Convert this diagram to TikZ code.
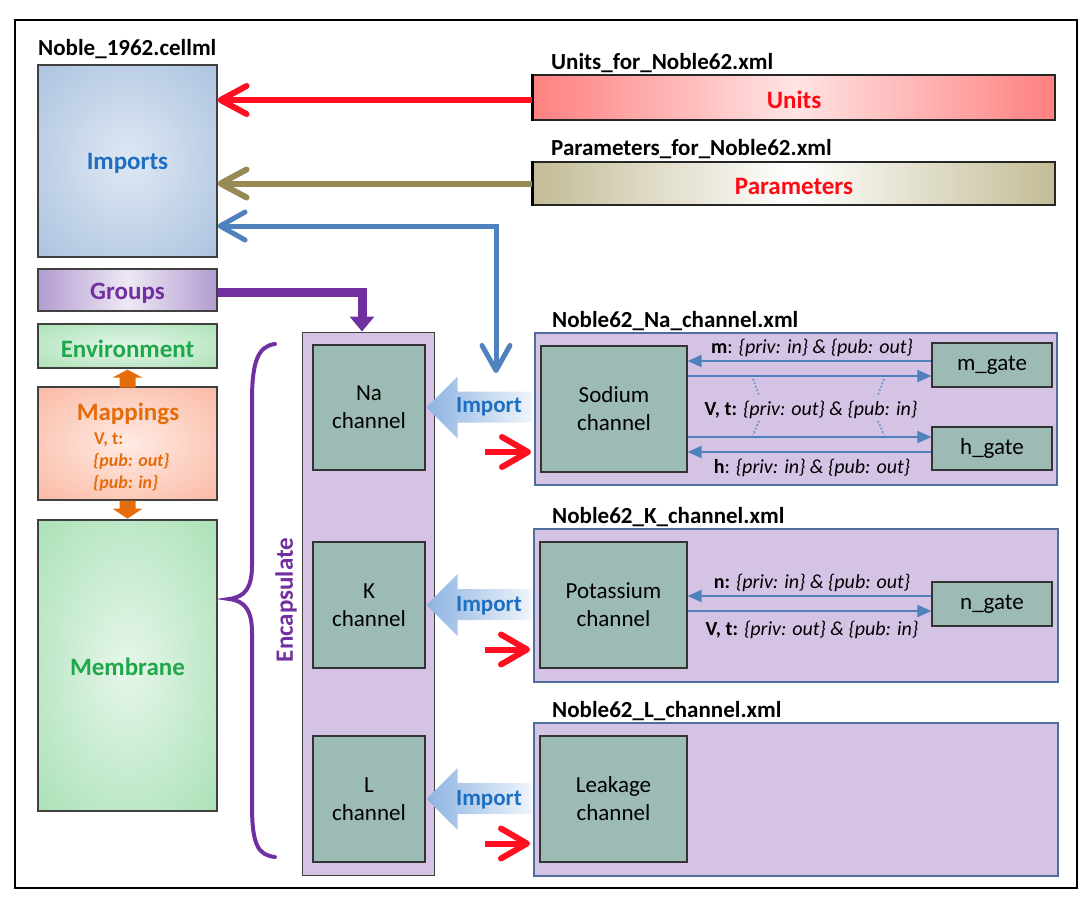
\documentclass[tikz,border=0pt]{standalone}
\usepackage{fontspec}
\setmainfont{Carlito}
\usetikzlibrary{arrows.meta}

\definecolor{impin}{HTML}{DFE8F3}
\definecolor{impout}{HTML}{97B4D8}
\definecolor{impblue}{HTML}{1F6FC1}
\definecolor{grpedge}{HTML}{B29CD1}
\definecolor{grpmid}{HTML}{EEE8F4}
\definecolor{purp}{HTML}{7030A0}
\definecolor{envout}{HTML}{93D9A2}
\definecolor{envin}{HTML}{E6F6EA}
\definecolor{grn}{HTML}{1FA84A}
\definecolor{mapout}{HTML}{F8A68A}
\definecolor{mapin}{HTML}{FFEAE4}
\definecolor{orng}{HTML}{E46C0A}
\definecolor{lavc}{HTML}{D4C3E4}
\definecolor{chteal}{HTML}{9DBBB5}
\definecolor{xmlborder}{HTML}{4F6E9E}
\definecolor{arrblue}{HTML}{4F81BD}
\definecolor{arrred}{HTML}{FF0F1F}
\definecolor{olivec}{HTML}{978B55}
\definecolor{unitedge}{HTML}{FF8080}
\definecolor{unitmid}{HTML}{FFE4E4}
\definecolor{paredge}{HTML}{C3BC96}
\definecolor{impa}{HTML}{8DB3E2}
\definecolor{impb}{HTML}{F0F5FB}
\definecolor{redtxt}{HTML}{FF0A14}

\pgfdeclareradialshading{impsh}{\pgfpoint{0bp}{0bp}}{color(0bp)=(impin); color(50bp)=(impout)}
\pgfdeclareradialshading{envsh}{\pgfpoint{0bp}{0bp}}{color(0bp)=(envin); color(50bp)=(envout)}
\pgfdeclareradialshading{mapsh}{\pgfpoint{0bp}{0bp}}{color(0bp)=(mapin); color(50bp)=(mapout)}

\newcommand\szL{\fontsize{25}{30}\selectfont}
\newcommand\szT{\fontsize{23}{27}\selectfont}
\newcommand\szB{\fontsize{23}{28}\selectfont}
\newcommand\szG{\fontsize{20}{24}\selectfont}
\newcommand\szM{\fontsize{18}{22}\selectfont}

\tikzset{
  lbox/.style={draw=black!75, line width=1.2pt, minimum width=179pt, inner sep=0pt,
     font=\szL\bfseries, text height=16pt, text depth=0pt},
  chbox/.style={draw=black!80, fill=chteal, line width=1.2pt, inner sep=0pt, align=center, font=\szB},
  xmlbox/.style={draw=xmlborder, fill=lavc, line width=2pt, inner sep=0pt},
  filetitle/.style={font=\szT\bfseries, anchor=base west, inner sep=0pt},
  gatearr/.style={draw=arrblue, line width=2pt, -{Triangle[length=14pt,width=12pt]}},
  gatelbl/.style={font=\szG, inner sep=0pt},
  redarr/.style={draw=arrred, line width=6pt, -{Straight Barb[length=26pt,width=28pt,round]}},
  olivearr/.style={draw=olivec, line width=6pt, -{Straight Barb[length=26pt,width=28pt,round]}},
  bluearr/.style={draw=arrblue, line width=5pt, line join=miter,
     {Straight Barb[length=25pt,width=28pt,round]}-{Straight Barb[length=25pt,width=28pt,round]}},
  grparr/.style={draw=purp, line width=9pt, line join=miter, -{Triangle[length=15pt,width=24pt]}},
  redshort/.style={draw=arrred, line width=6pt, shorten >=3pt, -{Straight Barb[length=26pt,width=30pt,round]}},
  importtxt/.style={font=\szB\bfseries, text=impblue, inner sep=0pt},
  dotl/.style={draw=arrblue!85, dotted, line width=1.7pt},
}

\begin{document}
\begin{tikzpicture}[x=1pt,y=-1pt]
\useasboundingbox (0,0) rectangle (1092,908);
\draw[line width=2pt] (15,20) rectangle (1077,888);

% ---- left column ----
\node[filetitle] (tcell) at (38,55) {Noble\_1962.cellml};
\node[lbox, minimum height=192pt, shading=impsh, text=impblue] (imports) at (127.5,161) {Imports};
\node[lbox, minimum height=42pt, left color=grpedge, right color=grpedge, middle color=grpmid, text=purp, text height=19pt] (groups) at (127.5,290) {Groups};
\node[lbox, minimum height=44pt, shading=envsh, text=grn, text height=22pt] (env) at (127.5,346) {Environment};
\node[lbox, minimum height=113pt, shading=mapsh] (map) at (127.5,443.5) {};
\node[lbox, minimum height=291pt, shading=envsh, text=grn, text height=20pt] (mem) at (127.5,665.5) {Membrane};

\node[font=\szL\bfseries, text=orng, anchor=base, inner sep=0pt] (maptitle) at (128,420) {Mappings};
\node[font=\szM\bfseries, text=orng, anchor=base west, inner sep=0pt] (mapvt) at (94,444) {V, t:};
\node[font=\szM\bfseries\itshape, text=orng, anchor=base west, inner sep=0pt] (mapout) at (93,466) {\{pub: out\}};
\node[font=\szM\bfseries\itshape, text=orng, anchor=base west, inner sep=0pt] (mapin) at (93,488) {\{pub: in\}};

% orange block arrows
\fill[orng] ([yshift=-1pt]env.south) -- ++(15,8) -- ++(-7,0) -- ++(0,10) -- ++(-16,0) -- ++(0,-10) -- ++(-7,0) -- cycle;
\fill[orng] ([xshift=-8pt]map.south) -- ++(16,0) -- ++(0,8) -- ++(7,0) -- ++(-15,10) -- ++(-15,-10) -- ++(7,0) -- cycle;

% brace and label
\draw[purp, line width=4pt, line cap=round]
  (275,344) .. controls (258,346) and (252,362) .. (252,400) -- (252,565)
  .. controls (252,588) and (245,597) .. (229,599)
  .. controls (245,601) and (252,610) .. (252,633) -- (252,805)
  .. controls (252,845) and (258,855) .. (275,857);
\node[rotate=90, font=\szL\bfseries, text=purp, inner sep=0pt] (encaps) at (286,600) {Encapsulate};

% ---- encapsulating column ----
\node[draw=black!75, fill=lavc, line width=1pt, minimum width=132pt, minimum height=543pt, inner sep=0pt] (encap) at (368,603.5) {};
\node[chbox, minimum width=112pt, minimum height=125pt] (na) at (369,407.5) {Na\\channel};
\node[chbox, minimum width=112pt, minimum height=126pt] (kc) at (369,605) {K\\channel};
\node[chbox, minimum width=112pt, minimum height=126pt] (lc) at (369,799) {L\\channel};

% ---- top right files ----
\node[filetitle] (tunits) at (551,69) {Units\_for\_Noble62.xml};
\node[draw=black!85, line width=1.5pt, minimum width=522pt, minimum height=45pt, inner sep=0pt,
      left color=unitedge, right color=unitedge, middle color=unitmid,
      font=\szL\bfseries, text=redtxt, text height=22pt, text depth=0pt] (units) at (794,97.5) {Units};
\draw[line width=2.5pt] (units.south west) -- (units.north west);
\node[filetitle] (tparams) at (551,155) {Parameters\_for\_Noble62.xml};
\node[draw=black!85, line width=1.5pt, minimum width=522pt, minimum height=43pt, inner sep=0pt,
      left color=paredge, right color=paredge, middle color=white,
      font=\szL\bfseries, text=redtxt, text height=22pt, text depth=0pt] (params) at (794,183.5) {Parameters};
\draw[line width=2.5pt] (params.south west) -- (params.north west);

% ---- channel files ----
\node[filetitle] (tna) at (552,327) {Noble62\_Na\_channel.xml};
\node[xmlbox, minimum width=522pt, minimum height=152pt] (naxml) at (796,409) {};
\node[chbox, minimum width=146pt, minimum height=126pt] (sodium) at (614,409) {Sodium\\channel};
\node[chbox, minimum width=120pt, minimum height=44pt] (mgate) at (992,365) {m\_gate};
\node[chbox, minimum width=120pt, minimum height=43pt] (hgate) at (992,448.5) {h\_gate};

\node[filetitle] (tk) at (552,523) {Noble62\_K\_channel.xml};
\node[xmlbox, minimum width=524pt, minimum height=153pt] (kxml) at (796,605.5) {};
\node[chbox, minimum width=147pt, minimum height=126pt] (potas) at (613.5,605) {Potassium\\channel};
\node[chbox, minimum width=120pt, minimum height=44pt] (ngate) at (992,604) {n\_gate};

\node[filetitle] (tl) at (552,717) {Noble62\_L\_channel.xml};
\node[xmlbox, minimum width=524pt, minimum height=153pt] (lxml) at (796,799.5) {};
\node[chbox, minimum width=147pt, minimum height=126pt] (leak) at (613.5,799) {Leakage\\channel};

% ---- gate arrows (Na) ----
\coordinate (m1) at ([yshift=4pt]mgate.west);
\coordinate (m2) at ([yshift=-11pt]mgate.west);
\coordinate (h1) at ([yshift=11.5pt]hgate.west);
\coordinate (h2) at ([yshift=-3.5pt]hgate.west);
\draw[gatearr] (m1) -- (sodium.east |- m1);
\draw[gatearr] (sodium.east |- m2) -- (m2);
\draw[gatearr] (sodium.east |- h1) -- (h1);
\draw[gatearr] (h2) -- (sodium.east |- h2);
\draw[dotl] (753,379) -- (759,395);
\draw[dotl] (759,421) -- (753,435);
\draw[dotl] (884,379) -- (878,395);
\draw[dotl] (878,421) -- (884,435);
\node[gatelbl] (mlbl) at (812,348) {\textbf{m}: \textit{\{priv: in\} \& \{pub: out\}}};
\node[gatelbl] (vtna) at (811,410) {\textbf{V, t:} \textit{\{priv: out\} \& \{pub: in\}}};
\node[gatelbl] (hlbl) at (812,468) {\textbf{h}: \textit{\{priv: in\} \& \{pub: out\}}};

% ---- gate arrows (K) ----
\coordinate (n1) at ([yshift=8pt]ngate.west);
\coordinate (n2) at ([yshift=-7pt]ngate.west);
\draw[gatearr] (n1) -- (potas.east |- n1);
\draw[gatearr] (potas.east |- n2) -- (n2);
\node[gatelbl] (nlbl) at (812,583) {\textbf{n:} \textit{\{priv: in\} \& \{pub: out\}}};
\node[gatelbl] (vtk) at (812,630) {\textbf{V, t:} \textit{\{priv: out\} \& \{pub: in\}}};

% ---- import block arrows ----
\foreach \ch in {na, kc, lc}{
  \shade[left color=impa, right color=impb]
    ([xshift=1pt]\ch.east) -- ++(31,-31) -- ++(0,15) -- ++(74,0) -- ++(0,31) -- ++(-74,0) -- ++(0,16) -- cycle;
}
\node[importtxt] (imp1) at (489,407) {Import};
\node[importtxt] (imp2) at (489,606) {Import};
\node[importtxt] (imp3) at (489,800) {Import};

% ---- red short arrows ----
\coordinate (r1) at (485,452);
\coordinate (r2) at (485,649.5);
\coordinate (r3) at (485,843.5);
\draw[redshort] (r1) -- (r1 -| naxml.west);
\draw[redshort] (r2) -- (r2 -| kxml.west);
\draw[redshort] (r3) -- (r3 -| lxml.west);

% ---- long connectors ----
\draw[redarr] ([yshift=-2.5pt]units.west) -- ([yshift=-2.5pt]units.west -| imports.east);
\draw[olivearr] (params.west) -- (params.west -| imports.east);
\coordinate (bcorner) at (496,226);
\coordinate (btip) at (496,373);
\draw[bluearr] (btip) -- (bcorner) -- (bcorner -| imports.east);
\draw[grparr] ([yshift=-2pt]groups.east) -| ([xshift=-6pt]encap.north);
\end{tikzpicture}
\end{document}
